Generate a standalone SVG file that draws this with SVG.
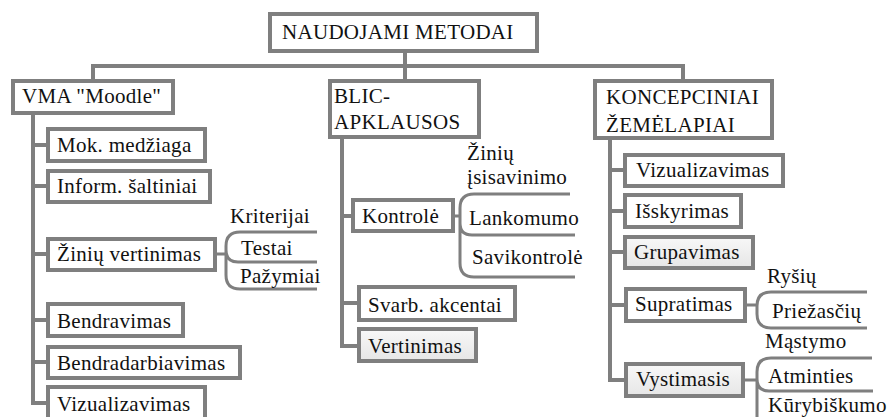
<svg xmlns="http://www.w3.org/2000/svg" width="890" height="417" viewBox="0 0 890 417">
<defs>
<linearGradient id="g" x1="0" y1="0" x2="0" y2="1">
<stop offset="0" stop-color="#f8f8f8"/>
<stop offset="1" stop-color="#e6e6e6"/>
</linearGradient>
<style>
.b{fill:#fff;stroke:#7f7f7f;stroke-width:4}
.s{fill:url(#g);stroke:#7f7f7f;stroke-width:4}
.c{fill:none;stroke:#7f7f7f;stroke-width:4}
.k{fill:none;stroke:#7f7f7f;stroke-width:3}
.t text{font-family:Tinos,'Liberation Serif','Times New Roman',Times,'DejaVu Serif','Noto Serif',serif;font-size:21px;fill:#111;letter-spacing:0.3px}
</style>
</defs>
<rect width="890" height="417" fill="#fff"/>
<g id="connectors">
<path class="c" d="M93,79 V66 H683 V79 M405,53 V79"/>
<path class="c" d="M33,115 V403 H46 M33,145 H46 M33,186 H46 M33,254 H46 M33,320 H46 M33,362 H46"/>
<path class="c" d="M342,139 V346 H357 M342,216 H351 M342,303 H357"/>
<path class="c" d="M610,140 V380 H624 M610,170 H623 M610,211 H623 M610,252 H623 M610,305 H624"/>
<path class="k" d="M217,254 H226 M317,232 H240 Q226,232 226,246 V275 Q226,289 240,289 H317 M226,250 Q226,262 238,262 H317"/>
<path class="k" d="M455,216 H460 M570,194 H474 Q460,194 460,208 V263 Q460,277 474,277 H575 M460,223 Q460,235 472,235 H575"/>
<path class="k" d="M747,305 H757 M867,292 H771 Q757,292 757,306 V314 Q757,328 771,328 H867"/>
<path class="k" d="M745,380 H757 M872,358 H771 Q757,358 757,372 V430 M757,379 Q757,391 769,391 H873"/>
</g>
<g class="t">
<g id="root"><rect class="b" x="270" y="14" width="267" height="37"/><text x="282" y="39" letter-spacing="1">NAUDOJAMI METODAI</text></g>
<g id="vma"><rect class="b" x="13" y="81" width="160" height="32"/><text x="22" y="103">VMA "Moodle"</text></g>
<g id="blic"><rect class="b" x="330" y="81" width="149" height="56"/><text x="334" y="103">BLIC-</text><text x="334" y="129">APKLAUSOS</text></g>
<g id="konc"><rect class="b" x="595" y="81" width="177" height="57"/><text x="606" y="104">KONCEPCINIAI</text><text x="606" y="132">ŽEMĖLAPIAI</text></g>
<g id="mok"><rect class="b" x="48" y="129" width="157" height="32"/><text x="57" y="152">Mok. medžiaga</text></g>
<g id="inform"><rect class="b" x="48" y="171" width="162" height="31"/><text x="57" y="193">Inform. šaltiniai</text></g>
<g id="ziniu-vert"><rect class="b" x="48" y="239" width="167" height="31"/><text x="57" y="261">Žinių vertinimas</text></g>
<g id="kriterijai"><text x="230" y="223">Kriterijai</text></g>
<g id="testai"><text x="241" y="255">Testai</text></g>
<g id="pazymiai"><text x="240" y="283">Pažymiai</text></g>
<g id="bendravimas"><rect class="b" x="48" y="304" width="135" height="32"/><text x="57" y="328">Bendravimas</text></g>
<g id="bendradarb"><rect class="b" x="48" y="347" width="192" height="31"/><text x="57" y="370">Bendradarbiavimas</text></g>
<g id="vizual1"><rect class="b" x="48" y="387" width="157" height="34"/><text x="57" y="411">Vizualizavimas</text></g>
<g id="kontrole"><rect class="b" x="353" y="200" width="100" height="31"/><text x="362" y="223">Kontrolė</text></g>
<g id="ziniu-isis"><text x="467" y="160">Žinių</text><text x="467" y="184">įsisavinimo</text></g>
<g id="lankomumo"><text x="469" y="225">Lankomumo</text></g>
<g id="savikontrole"><text x="472" y="264">Savikontrolė</text></g>
<g id="svarb"><rect class="b" x="359" y="287" width="156" height="33"/><text x="368" y="312">Svarb. akcentai</text></g>
<g id="vertinimas"><rect class="s" x="359" y="329" width="117" height="32"/><text x="368" y="353">Vertinimas</text></g>
<g id="vizual2"><rect class="b" x="625" y="155" width="158" height="31"/><text x="636" y="177">Vizualizavimas</text></g>
<g id="isskyrimas"><rect class="b" x="625" y="195" width="116" height="32"/><text x="635" y="218">Išskyrimas</text></g>
<g id="grupavimas"><rect class="s" x="625" y="237" width="128" height="31"/><text x="634" y="259">Grupavimas</text></g>
<g id="rysiu"><text x="767" y="283">Ryšių</text></g>
<g id="supratimas"><rect class="b" x="626" y="289" width="119" height="32"/><text x="635" y="311">Supratimas</text></g>
<g id="priezasciu"><text x="772" y="318">Priežasčių</text></g>
<g id="mastymo"><text x="765" y="348">Mąstymo</text></g>
<g id="vystimasis"><rect class="s" x="626" y="364" width="117" height="32"/><text x="636" y="386">Vystimasis</text></g>
<g id="atminties"><text x="768" y="383">Atminties</text></g>
<g id="kurybiskumo"><text x="768" y="412">Kūrybiškumo</text></g>
</g>
</svg>
